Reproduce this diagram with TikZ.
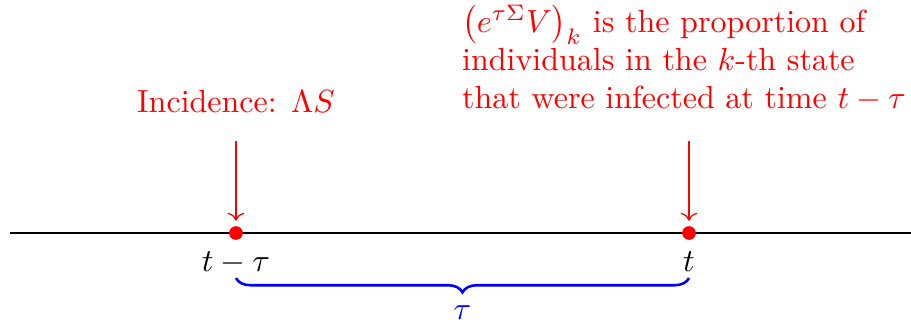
\documentclass[tikz,border=0pt]{standalone}
\usepackage{amsmath,amssymb,amsfonts}
\usepackage{xcolor}
\usepackage{tikz}
\usetikzlibrary{arrows.meta,positioning,decorations.pathreplacing}

\begin{document}
\begin{tikzpicture}[>=To, node distance=0.1cm,
    dot/.style={circle, fill=red, inner sep=0pt, minimum size=0.15cm}]
    \useasboundingbox (0,0) rectangle (10,3.535);
    \coordinate (L) at (0.11,0.977);
    \coordinate (R) at (10,0.977);
    \draw (L) -- (R);

    \node[dot] (A) at (2.59,0.977) {};
    \node[dot] (B) at (7.563,0.977) {};
    \node[below=0pt of A] (tA) {$t-\tau$};
    \node[below=0pt of B] (tB) {$t$};

    \coordinate (a1) at (2.59,1.987);
    \coordinate (b1) at (7.563,1.987);
    \node[red, above=0.18cm of a1] (inc) {Incidence: $\Lambda S$};
    \node[red, align=left, anchor=south] (prop) at (7.508,2.185)
        {$\left(e^{\tau\Sigma}V\right)_k$ is the proportion of\\
         individuals in the $k$-th state\\
         that were infected at time $t-\tau$};
    \draw[->, red, shorten >=1.5pt] (a1) -- (A.north);
    \draw[->, red, shorten >=1.5pt] (b1) -- (B.north);

    \draw[blue, thick, decorate, decoration={brace, mirror, amplitude=4.5pt}]
        ([yshift=-0.494cm]A.center) -- ([yshift=-0.494cm]B.center)
        node[midway, below=5pt] (tau) {$\tau$};
\end{tikzpicture}
\end{document}
